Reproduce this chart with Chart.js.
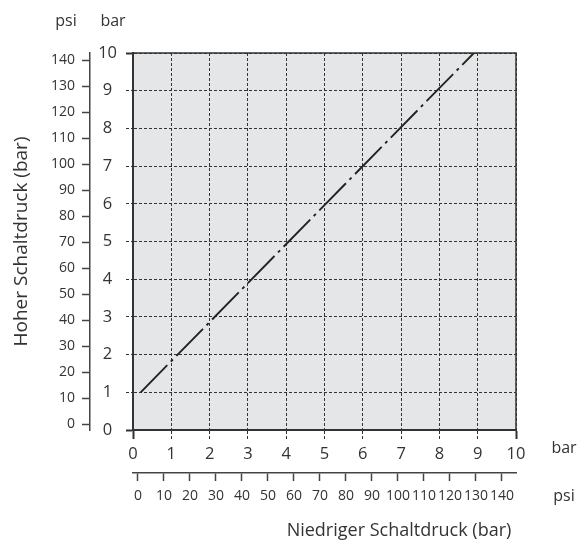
<!DOCTYPE html>
<html>
<head>
<meta charset="utf-8">
<script src="https://cdn.jsdelivr.net/npm/chart.js@4.4.1/dist/chart.umd.min.js"></script>
<style>
html,body{margin:0;padding:0;background:#fff;}
#wrap{width:584px;height:545px;position:relative;}
</style>
</head>
<body>
<div id="wrap"><canvas id="c"></canvas></div>
<script>
// ---- data ----
const barTicks = [0, 1, 2, 3, 4, 5, 6, 7, 8, 9, 10];
const psiTicks = [0, 10, 20, 30, 40, 50, 60, 70, 80, 90, 100, 110, 120, 130, 140];
const lowPressure  = [0.2, 8.9];   // Niedriger Schaltdruck (bar)
const highPressure = [1.0, 10.0];  // Hoher Schaltdruck (bar)
const titleX = 'Niedriger Schaltdruck (bar)';
const titleY = 'Hoher Schaltdruck (bar)';
const unitBar = 'bar';
const unitPsi = 'psi';

// ---- style ----
const INK = '#333333';
const FONT = "'Open Sans', sans-serif";
const isEdge = v => v === 0 || v === 10;

const bgPlugin = {
  id: 'bg',
  beforeDraw(chart) {
    const {ctx, chartArea: a} = chart;
    ctx.save();
    ctx.fillStyle = '#e5e6e8';
    ctx.fillRect(a.left, a.top, a.right - a.left, a.bottom - a.top);
    ctx.restore();
  },
  afterDraw(chart) {
    const {ctx, chartArea: a} = chart;
    ctx.save();
    ctx.strokeStyle = INK;
    ctx.lineWidth = 1.5;
    ctx.beginPath();
    ctx.moveTo(a.left, a.top);
    ctx.lineTo(a.right, a.top);
    ctx.lineTo(a.right, a.bottom);
    ctx.stroke();
    // unit labels
    ctx.fillStyle = INK;
    ctx.font = '16px ' + FONT;
    ctx.textAlign = 'center';
    ctx.textBaseline = 'alphabetic';
    ctx.fillText(unitPsi, a.left - 67, 26);
    ctx.fillText(unitBar, a.left - 20, 26);
    ctx.fillText(unitBar, a.right + 48, 453);
    ctx.fillText(unitPsi, a.right + 48, 501);
    ctx.restore();
  }
};

new Chart(document.getElementById('c'), {
  type: 'scatter',
  data: {
    datasets: [{
      data: lowPressure.map((x, i) => ({x: x, y: highPressure[i]})),
      showLine: true,
      borderColor: '#222222',
      borderWidth: 1.9,
      borderDash: [38, 5, 3, 5],
      pointRadius: 0,
      fill: false,
      xAxisID: 'x',
      yAxisID: 'y'
    }]
  },
  options: {
    responsive: true,
    maintainAspectRatio: false,
    animation: false,
    layout: {padding: {left: 0, right: 68, top: 53, bottom: 0}},
    plugins: {legend: {display: false}, tooltip: {enabled: false}},
    scales: {
      x: {
        type: 'linear', position: 'bottom', weight: 0, min: 0, max: 10,
        afterBuildTicks: s => { s.ticks = barTicks.map(v => ({value: v})); },
        afterFit: s => { s.height = 43; },
        grid: {
          color: INK, lineWidth: 1, drawTicks: true, tickLength: 9,
          tickColor: INK,
          tickWidth: c => (c.tick && isEdge(c.tick.value)) ? 2 : 1,
          tickBorderDash: c => (c.tick && isEdge(c.tick.value)) ? [] : [3, 2]
        },
        border: {display: true, color: INK, width: 2, dash: [3, 2]},
        ticks: {color: INK, font: {family: FONT, size: 16.5}, padding: 5, autoSkip: false, maxRotation: 0, minRotation: 0}
      },
      xpsi: {
        type: 'linear', position: 'bottom', weight: 1, min: -1.92, max: 145.4,
        afterBuildTicks: s => { s.ticks = psiTicks.map(v => ({value: v})); },
        afterFit: s => { s.height = 72; },
        grid: {drawOnChartArea: false, drawTicks: true, tickLength: 8, tickColor: '#444', tickWidth: 1.5},
        border: {display: true, color: '#444', width: 1.5},
        ticks: {color: INK, font: {family: FONT, size: 14}, padding: 7, autoSkip: false, maxRotation: 0, minRotation: 0},
        title: {display: true, text: titleX + '\u00A0', align: 'end', color: INK, font: {family: FONT, size: 18}, padding: {top: 3, bottom: 3}}
      },
      y: {
        type: 'linear', position: 'left', weight: 0, min: 0, max: 10,
        afterBuildTicks: s => { s.ticks = barTicks.map(v => ({value: v})); },
        afterFit: s => { s.width = 43; },
        grid: {
          color: INK, lineWidth: 1, drawTicks: true, tickLength: 7,
          tickColor: INK,
          tickWidth: c => (c.tick && isEdge(c.tick.value)) ? 2 : 1,
          tickBorderDash: c => (c.tick && isEdge(c.tick.value)) ? [] : [3, 2]
        },
        border: {display: true, color: INK, width: 2, dash: [3, 2]},
        ticks: {color: INK, font: {family: FONT, size: 16.5}, padding: 9, crossAlign: 'center', autoSkip: false}
      },
      ypsi: {
        type: 'linear', position: 'left', weight: 1, min: -2.3, max: 142.7,
        afterBuildTicks: s => { s.ticks = psiTicks.map(v => ({value: v})); },
        afterFit: s => { s.width = 90; },
        grid: {drawOnChartArea: false, drawTicks: true, tickLength: 8, tickColor: '#444', tickWidth: 1.5},
        border: {display: true, color: '#444', width: 1.5},
        ticks: {color: INK, font: {family: FONT, size: 14}, padding: 7, autoSkip: false},
        title: {display: true, text: titleY, color: INK, font: {family: FONT, size: 19}, padding: {top: 10, bottom: 0}}
      }
    }
  },
  plugins: [bgPlugin]
});
</script>
</body>
</html>
